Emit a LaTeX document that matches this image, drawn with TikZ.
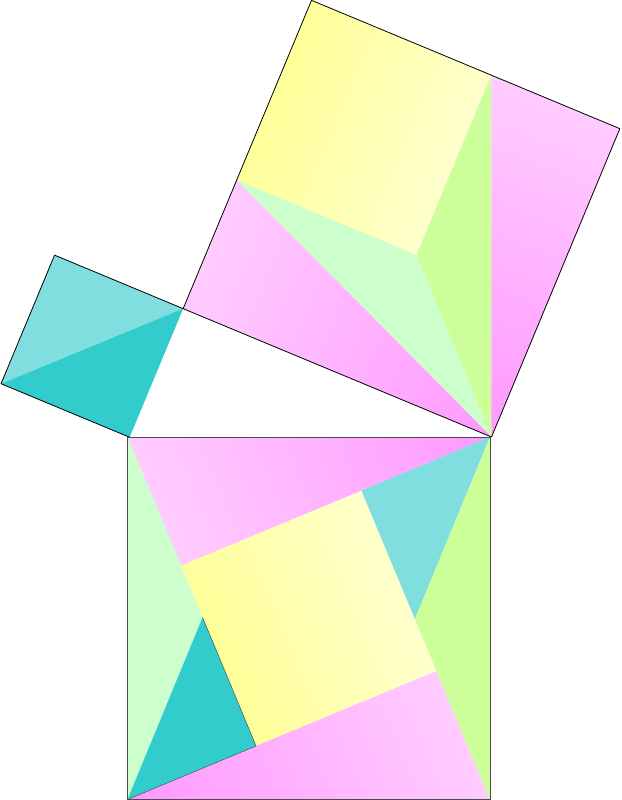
\documentclass[tikz,border=0pt]{standalone}
\usetikzlibrary{calc}
\definecolor{pkL}{HTML}{FFCCFF}
\definecolor{pkD}{HTML}{FF99FF}
\definecolor{ylD}{HTML}{FFFF99}
\definecolor{ylL}{HTML}{FFFFCC}
\definecolor{grn}{HTML}{CCFF99}
\definecolor{mnt}{HTML}{CCFFCC}
\definecolor{cyL}{HTML}{80DEDE}
\definecolor{cyD}{HTML}{33CCCC}
\pgfmathsetmacro\pAng{67.4}
\pgfmathsetmacro\pCa{cos(\pAng)}
\pgfmathsetmacro\pSa{sin(\pAng)}
\def\pLa{139.3}
\def\pLb{334}
\pgfmathsetmacro\pLd{\pLb-\pLa}
\def\pLc{362.5}
\pgfmathsetmacro\pMa{\pLc*\pCa}
\pgfmathsetmacro\pMb{\pLc*\pSa}
\pgfmathsetmacro\pMd{\pMb-\pMa}
\pgfmathsetmacro\angA{90-\pAng}
\pgfmathsetmacro\angB{270-\pAng}
\pgfmathsetmacro\angC{180+\pAng}
\pgfmathsetmacro\angD{\pAng-90}
\newcommand\gradpoly[6]{%
  \begin{scope}
    \clip #1;
    \begin{scope}[transform canvas={shift={(#2)},rotate=#3}]
      \shade[left color=#5,right color=#6] (0pt,-420pt) rectangle (#4pt,420pt);
    \end{scope}
  \end{scope}}
\tikzset{
  sqline/.style={draw=black,line width=0.8pt,line join=round},
  bigline/.style={draw=black!70,line width=0.9pt,line join=round},
  thinline/.style={draw=black!75,line width=0.4pt},
}
\begin{document}
\begin{tikzpicture}[x=1pt,y=-1pt]
\useasboundingbox (0,0) rectangle (621,800);
% right triangle and squares on its legs
\coordinate (B) at (491.5,437);
\coordinate (C) at ($(B)+(-\pLb*\pSa,-\pLb*\pCa)$);
\coordinate (A) at ($(C)+(-\pLa*\pCa,\pLa*\pSa)$);
\coordinate (P1) at ($(C)+(-\pLa*\pSa,-\pLa*\pCa)$);
\coordinate (P4) at ($(A)+(-\pLa*\pSa,-\pLa*\pCa)$);
\coordinate (T1) at ($(C)+(\pLb*\pCa,-\pLb*\pSa)$);
\coordinate (T2) at ($(B)+(\pLb*\pCa,-\pLb*\pSa)$);
\coordinate (Y2) at ($(T1)+(\pLd*\pSa,\pLd*\pCa)$);
\coordinate (Y4) at ($(T1)+(-\pLd*\pCa,\pLd*\pSa)$);
\coordinate (Y3) at ($(Y2)+(-\pLd*\pCa,\pLd*\pSa)$);
% big square on hypotenuse
\coordinate (QA) at (127.5,437);
\coordinate (QB) at (490,437);
\coordinate (QD) at (490,799.5);
\coordinate (QE) at (127.5,799.5);
\coordinate (R1) at ($(QA)+(\pMa*\pCa,\pMa*\pSa)$);
\coordinate (R2) at ($(QB)+(-\pMa*\pSa,\pMa*\pCa)$);
\coordinate (R3) at ($(QD)+(-\pMa*\pCa,-\pMa*\pSa)$);
\coordinate (R4) at ($(QE)+(\pMa*\pSa,-\pMa*\pCa)$);
\coordinate (S2) at ($(R2)+(\pMa*\pCa,\pMa*\pSa)$);
\coordinate (S4) at ($(R4)+(-\pMa*\pCa,-\pMa*\pSa)$);

% small square
\fill[cyL] (P1)--(C)--(P4)--cycle;
\fill[cyD] (P4)--(C)--(A)--cycle;

% top square
\gradpoly{(T1)--(Y2)--(Y3)--(Y4)--cycle}{T1}{\angD}{\pLd}{ylD}{ylL}
\fill[grn] (Y2)--(Y3)--(B)--cycle;
\fill[mnt] (Y4)--(Y3)--(B)--cycle;
\gradpoly{(Y2)--(T2)--(B)--cycle}{T2}{\angC}{\pLb}{pkL}{pkD}
\gradpoly{(C)--(Y4)--(B)--cycle}{C}{\angD}{\pLb}{pkL}{pkD}

% big square
\gradpoly{(R1)--(R2)--(R3)--(R4)--cycle}{R1}{\angA}{\pMd}{ylD}{ylL}
\gradpoly{(QA)--(QB)--(R1)--cycle}{R1}{\angA}{\pMb}{pkL}{pkD}
\gradpoly{(QD)--(QE)--(R3)--cycle}{R3}{\angB}{\pMb}{pkL}{pkD}
\fill[cyL] (R2)--(QB)--(S2)--cycle;
\fill[grn] (QB)--(S2)--(QD)--cycle;
\fill[mnt] (QA)--(S4)--(QE)--cycle;
\fill[cyD] (R4)--(QE)--(S4)--cycle;
\draw[thinline] (S4)--(R4)--(QE);

% outlines
\draw[sqline] (C)--(P1)--(P4)--(A);
\draw[sqline] (C)--(T1)--(T2)--(B)--cycle;
\draw[bigline] (QA)--(QB)--(QD)--(QE)--cycle;
\end{tikzpicture}
\end{document}
